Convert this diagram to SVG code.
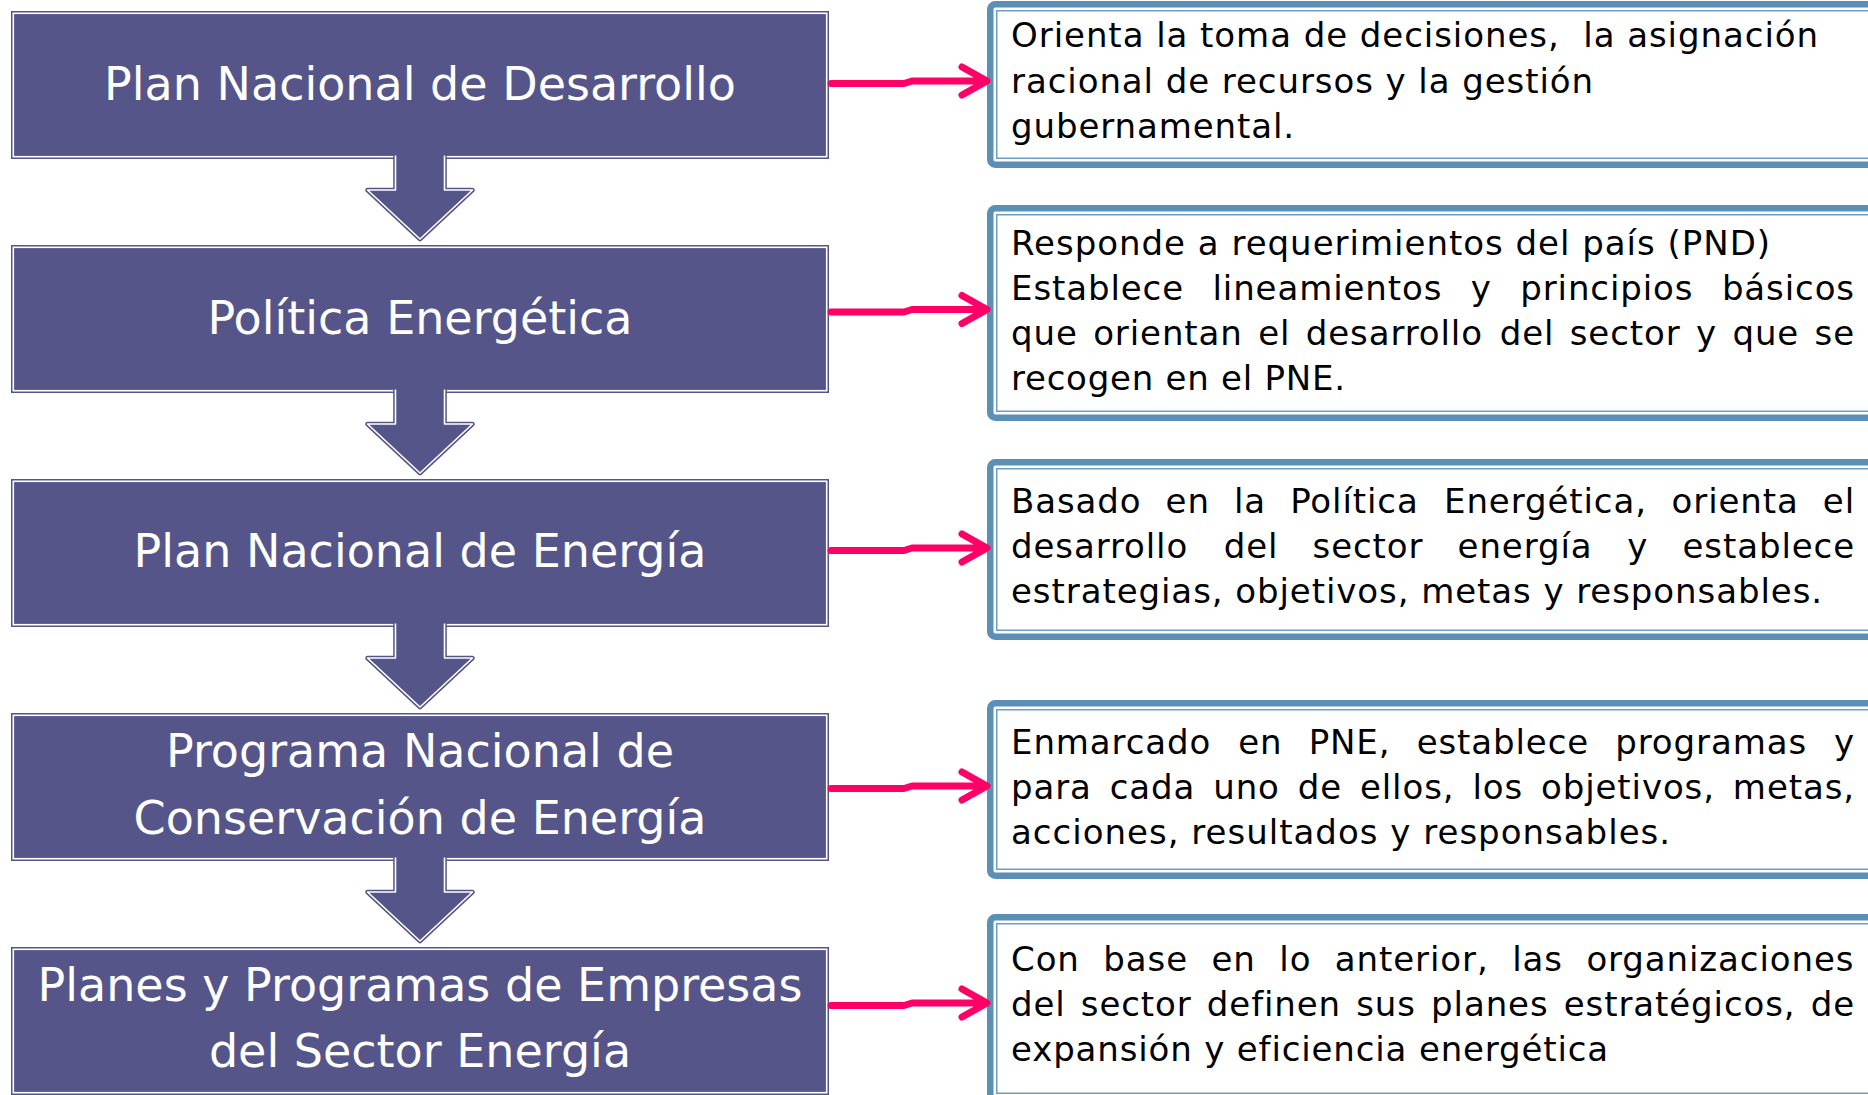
<svg xmlns="http://www.w3.org/2000/svg" width="1868" height="1095" viewBox="0 0 1868 1095">
<style>
.po{fill:#55558a}
.pi{fill:#55558a;stroke:#fff;stroke-width:1.6}
.title{font-family:"DejaVu Sans",sans-serif;font-size:46px;fill:#fff;text-anchor:middle}
.bo{fill:#fff;stroke:#5b8fb5;stroke-width:6.5}
.bi{fill:none;stroke:#6c9dc2;stroke-width:1.5}
.desc{font-family:"DejaVu Sans",sans-serif;font-size:34px;fill:#000;letter-spacing:0.9px}
.pink{fill:none;stroke:#ff0066;stroke-width:7;stroke-linecap:round;stroke-linejoin:round}
.dao{fill:#55558a;stroke:#55558a;stroke-width:4.6;stroke-linejoin:round}
.dai{fill:#55558a;stroke:#fff;stroke-width:1.6;stroke-linejoin:round}
</style>
<rect width="1868" height="1095" fill="#fff"/>

<g id="n1">
<rect class="po" x="11" y="11" width="818" height="148"/>
<rect class="pi" x="13.3" y="13.3" width="813.4" height="143.4"/>
<text class="title" x="420" y="100">Plan Nacional de Desarrollo</text>
</g>
<g id="n2">
<rect class="po" x="11" y="245" width="818" height="148"/>
<rect class="pi" x="13.3" y="247.3" width="813.4" height="143.4"/>
<text class="title" x="420" y="334">Política Energética</text>
</g>
<g id="n3">
<rect class="po" x="11" y="479" width="818" height="148"/>
<rect class="pi" x="13.3" y="481.3" width="813.4" height="143.4"/>
<text class="title" x="420" y="567">Plan Nacional de Energía</text>
</g>
<g id="n4">
<rect class="po" x="11" y="713" width="818" height="148"/>
<rect class="pi" x="13.3" y="715.3" width="813.4" height="143.4"/>
<text class="title" x="420" y="767">Programa Nacional de</text>
<text class="title" x="420" y="834">Conservación de Energía</text>
</g>
<g id="n5">
<rect class="po" x="11" y="947" width="818" height="148"/>
<rect class="pi" x="13.3" y="949.3" width="813.4" height="143.4"/>
<text class="title" x="420" y="1001">Planes y Programas de Empresas</text>
<text class="title" x="420" y="1067">del Sector Energía</text>
</g>

<g id="d1">
<rect class="bo" x="990.25" y="4.25" width="920" height="160.5" rx="5"/>
<rect class="bi" x="996.75" y="10.75" width="910" height="147.5"/>
<text class="desc" x="1011" y="47" xml:space="preserve" textLength="808" lengthAdjust="spacing">Orienta la toma de decisiones,  la asignación</text>
<text class="desc" x="1011" y="92.5" textLength="583" lengthAdjust="spacing">racional de recursos y la gestión</text>
<text class="desc" x="1011" y="138" textLength="284" lengthAdjust="spacing">gubernamental.</text>
</g>
<g id="d2">
<rect class="bo" x="990.25" y="208.25" width="920" height="209.5" rx="5"/>
<rect class="bi" x="996.75" y="214.75" width="910" height="196.5"/>
<text class="desc" x="1011" y="255" textLength="760" lengthAdjust="spacing">Responde a requerimientos del país (PND)</text>
<text class="desc" y="300"><tspan x="1011">Establece</tspan><tspan x="1212.44">lineamientos</tspan><tspan x="1470.75">y</tspan><tspan x="1520.19">principios</tspan><tspan x="1721.89">básicos</tspan></text>
<text class="desc" y="345"><tspan x="1011">que</tspan><tspan x="1093.17">orientan</tspan><tspan x="1258.2">el</tspan><tspan x="1305.77">desarrollo</tspan><tspan x="1499.69">del</tspan><tspan x="1569.75">sector</tspan><tspan x="1695.98">y</tspan><tspan x="1732.42">que</tspan><tspan x="1814.58">se</tspan></text>
<text class="desc" x="1011" y="390" textLength="335" lengthAdjust="spacing">recogen en el PNE.</text>
</g>
<g id="d3">
<rect class="bo" x="990.25" y="462.25" width="920" height="174.5" rx="5"/>
<rect class="bi" x="996.75" y="468.75" width="910" height="161.5"/>
<text class="desc" y="513"><tspan x="1011">Basado</tspan><tspan x="1165.62">en</tspan><tspan x="1233.99">la</tspan><tspan x="1290.18">Política</tspan><tspan x="1444.02">Energética,</tspan><tspan x="1671.58">orienta</tspan><tspan x="1822.85">el</tspan></text>
<text class="desc" y="558"><tspan x="1011">desarrollo</tspan><tspan x="1223.72">del</tspan><tspan x="1312.57">sector</tspan><tspan x="1457.6">energía</tspan><tspan x="1627.33">y</tspan><tspan x="1682.56">establece</tspan></text>
<text class="desc" x="1011" y="603" textLength="812" lengthAdjust="spacing">estrategias, objetivos, metas y responsables.</text>
</g>
<g id="d4">
<rect class="bo" x="990.25" y="703.25" width="920" height="172.5" rx="5"/>
<rect class="bi" x="996.75" y="709.75" width="910" height="159.5"/>
<text class="desc" y="753.5"><tspan x="1011">Enmarcado</tspan><tspan x="1238.19">en</tspan><tspan x="1308.63">PNE,</tspan><tspan x="1416.63">establece</tspan><tspan x="1615.26">programas</tspan><tspan x="1833.98">y</tspan></text>
<text class="desc" y="798.5"><tspan x="1011">para</tspan><tspan x="1109.75">cada</tspan><tspan x="1213.22">uno</tspan><tspan x="1297.74">de</tspan><tspan x="1359.94">ellos,</tspan><tspan x="1472.39">los</tspan><tspan x="1540.96">objetivos,</tspan><tspan x="1732.86">metas,</tspan></text>
<text class="desc" x="1011" y="843.5" textLength="660" lengthAdjust="spacing">acciones, resultados y responsables.</text>
</g>
<g id="d5">
<rect class="bo" x="990.25" y="917.25" width="920" height="182.5" rx="5"/>
<rect class="bi" x="996.75" y="923.75" width="910" height="169.5"/>
<text class="desc" y="971"><tspan x="1011">Con</tspan><tspan x="1103.32">base</tspan><tspan x="1211.5">en</tspan><tspan x="1279.29">lo</tspan><tspan x="1334.87">anterior,</tspan><tspan x="1512.15">las</tspan><tspan x="1586.38">organizaciones</tspan></text>
<text class="desc" y="1016"><tspan x="1011">del</tspan><tspan x="1080.83">sector</tspan><tspan x="1206.84">definen</tspan><tspan x="1356.26">sus</tspan><tspan x="1431.12">planes</tspan><tspan x="1563.76">estratégicos,</tspan><tspan x="1810.72">de</tspan></text>
<text class="desc" x="1011" y="1061" textLength="598" lengthAdjust="spacing">expansión y eficiencia energética</text>
</g>

<g id="connectors">
<path class="dao" d="M395.5,155.5 V190 H367.5 L420,239 L472.5,190 H444.5 V155.5 Z"/>
<path class="dai" d="M395.5,155.5 V190 H367.5 L420,239 L472.5,190 H444.5 V155.5"/>
<path class="dao" d="M395.5,389.5 V424 H367.5 L420,473 L472.5,424 H444.5 V389.5 Z"/>
<path class="dai" d="M395.5,389.5 V424 H367.5 L420,473 L472.5,424 H444.5 V389.5"/>
<path class="dao" d="M395.5,623.5 V658 H367.5 L420,707 L472.5,658 H444.5 V623.5 Z"/>
<path class="dai" d="M395.5,623.5 V658 H367.5 L420,707 L472.5,658 H444.5 V623.5"/>
<path class="dao" d="M395.5,857.5 V892 H367.5 L420,941 L472.5,892 H444.5 V857.5 Z"/>
<path class="dai" d="M395.5,857.5 V892 H367.5 L420,941 L472.5,892 H444.5 V857.5"/>

<path class="pink" d="M831,83.5 H904 L912,81 H986 M962,67 L987,81 L962,95"/>
<path class="pink" d="M831,312 H904 L912,309.5 H986 M962,295.5 L987,309.5 L962,323.5"/>
<path class="pink" d="M831,550.5 H904 L912,548 H986 M962,534 L987,548 L962,562"/>
<path class="pink" d="M831,788.5 H904 L912,786 H986 M962,772 L987,786 L962,800"/>
<path class="pink" d="M831,1005.5 H904 L912,1003 H986 M962,989 L987,1003 L962,1017"/>
</g>
</svg>
